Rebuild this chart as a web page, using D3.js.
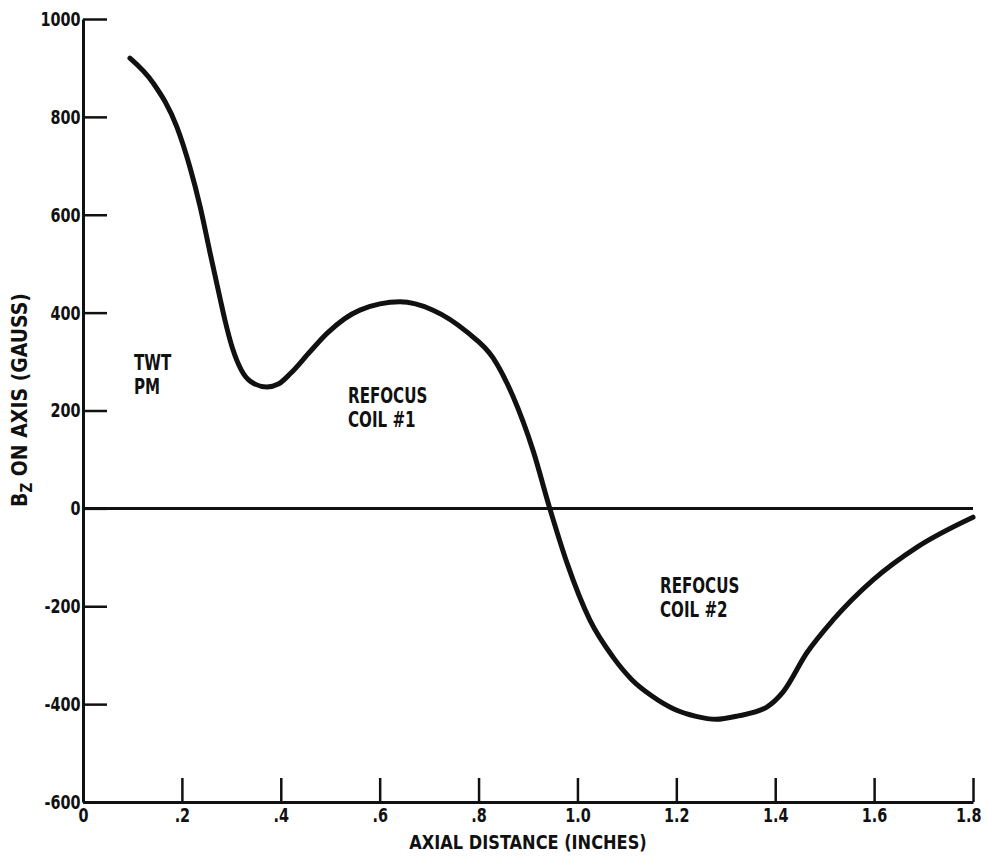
<!DOCTYPE html>
<html>
<head>
<meta charset="utf-8">
<script src="https://cdn.jsdelivr.net/npm/d3@7"></script>
<style>
  body { margin: 0; background: #fff; }
  svg text { font-family: "DejaVu Sans Condensed", "DejaVu Sans", sans-serif; font-weight: bold; fill: #111; }
</style>
</head>
<body>
<svg id="chart" width="987" height="858"></svg>
<script>
// axial distance (inches) and Bz on axis (gauss)
const distance = [0.095, 0.142, 0.190, 0.216, 0.237, 0.257, 0.277, 0.287, 0.303, 0.320, 0.338, 0.372, 0.395, 0.420, 0.459, 0.494, 0.560, 0.641, 0.708, 0.777, 0.829, 0.870, 0.910, 0.944, 0.979, 1.025, 1.072, 1.110, 1.150, 1.195, 1.240, 1.280, 1.325, 1.383, 1.416, 1.464, 1.517, 1.598, 1.687, 1.800];
const bz = [920, 869, 779, 698, 616, 522, 430, 385, 325, 283, 260, 248, 254, 276, 320, 358, 405, 422, 405, 360, 308, 228, 119, 0, -112, -228, -304, -350, -383, -410, -425, -431, -424, -406, -375, -295, -228, -146, -79, -18];

const xTicks = [0, 0.2, 0.4, 0.6, 0.8, 1.0, 1.2, 1.4, 1.6, 1.8];
const xTickLabels = ["0", ".2", ".4", ".6", ".8", "1.0", "1.2", "1.4", "1.6", "1.8"];
const yTicks = [1000, 800, 600, 400, 200, 0, -200, -400, -600];

let chart = d3.select("#chart");
let mLeft = 83, mRight = 973, mTop = 19, mBottom = 802;
let squeeze = 0.8; // the lettering is narrower than the condensed font

const x = d3.scaleLinear().domain([0, 1.8]).range([mLeft, mRight]);
const y = d3.scaleLinear().domain([-600, 1000]).range([mBottom, mTop]);

// y axis, ticks pointing inward
const yAxis = chart.append("g")
  .attr("transform", `translate(${mLeft},0)`)
  .call(d3.axisLeft(y).tickValues(yTicks).tickSizeInner(-24).tickSizeOuter(0).tickPadding(3).tickFormat(d => String(d)));
yAxis.select(".domain").attr("stroke-width", 3).attr("stroke", "#111");
yAxis.selectAll(".tick line").attr("stroke-width", 2.5).attr("stroke", "#111");
yAxis.selectAll(".tick text")
  .attr("font-size", 20).attr("font-family", null).attr("font-weight", "bold")
  .attr("transform", `scale(${squeeze},1)`);

// x axis, ticks pointing up
const xAxis = chart.append("g")
  .attr("transform", `translate(0,${mBottom})`)
  .call(d3.axisBottom(x).tickValues(xTicks).tickSizeInner(-24).tickSizeOuter(0).tickPadding(6).tickFormat((d, i) => xTickLabels[i]));
xAxis.select(".domain").attr("stroke-width", 3).attr("stroke", "#111");
xAxis.selectAll(".tick line").attr("stroke-width", 2.5).attr("stroke", "#111");
xAxis.selectAll(".tick text")
  .attr("font-size", 20).attr("font-family", null).attr("font-weight", "bold")
  .attr("dx", d => d == 1.8 ? -6 : 0)
  .attr("transform", `scale(${squeeze},1)`);

// zero line
chart.append("line")
  .attr("x1", x(0)).attr("x2", x(1.8))
  .attr("y1", y(0)).attr("y2", y(0))
  .attr("stroke", "#111").attr("stroke-width", 3);

// the field curve
const line = d3.line()
  .x((d, i) => x(distance[i]))
  .y(d => y(d))
  .curve(d3.curveMonotoneX);

chart.append("path")
  .datum(bz)
  .attr("d", line)
  .attr("fill", "none")
  .attr("stroke", "#111")
  .attr("stroke-width", 5)
  .attr("stroke-linecap", "round");

// annotations (pixel placement, like the hand lettering)
const notes = [
  { lines: ["TWT", "PM"], px: 134, py: 370 },
  { lines: ["REFOCUS", "COIL #1"], px: 348, py: 403 },
  { lines: ["REFOCUS", "COIL #2"], px: 660, py: 593 }
];
notes.forEach(n => {
  let t = chart.append("text")
    .attr("transform", `translate(${n.px},${n.py}) scale(${squeeze},1)`)
    .attr("font-size", 21);
  n.lines.forEach((s, i) => {
    t.append("tspan").attr("x", 0).attr("dy", i == 0 ? 0 : 24).text(s);
  });
});

// axis titles
chart.append("text")
  .attr("transform", `translate(528,849) scale(0.9,1)`)
  .attr("text-anchor", "middle")
  .attr("font-size", 20)
  .text("AXIAL DISTANCE (INCHES)");

let ylab = chart.append("text")
  .attr("transform", `translate(27,400) rotate(-90)`)
  .attr("text-anchor", "middle")
  .attr("font-size", 21);
ylab.append("tspan").text("B");
ylab.append("tspan").attr("font-size", 15).attr("dy", 5).text("Z");
ylab.append("tspan").attr("dy", -5).text(" ON AXIS (GAUSS)");
</script>
</body>
</html>
